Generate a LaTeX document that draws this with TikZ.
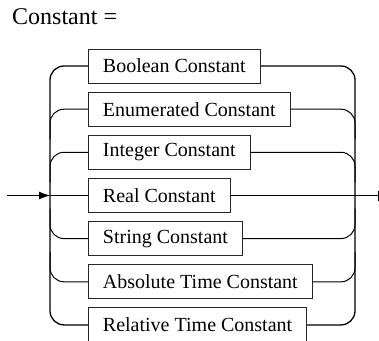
\documentclass[tikz,border=0pt]{standalone}
\usepackage{fontspec}
\setmainfont{Liberation Serif}
\usetikzlibrary{arrows.meta}
\tikzset{
  cbox/.style={draw=black!85, line width=0.9pt, minimum height=34pt, inner xsep=14.5pt, inner ysep=0pt, anchor=west, font=\fontsize{20}{24}\selectfont},
  rail/.style={line width=1.3pt, rounded corners=14pt},
  wire/.style={line width=1pt, rounded corners=14pt},
}
\begin{document}
\begin{tikzpicture}[x=1pt,y=1pt]
\useasboundingbox (0,0) rectangle (379,340);
\node[anchor=base west, inner sep=0pt, font=\fontsize{24}{28}\selectfont] (title) at (12,315) {Constant =};
\node[cbox] (b1) at (88,274) {Boolean Constant};
\node[cbox] (b2) at (88,230.8) {Enumerated Constant};
\node[cbox] (b3) at (88,187.7) {Integer Constant};
\node[cbox] (b4) at (88,144.5) {Real Constant};
\node[cbox] (b5) at (88,101.4) {String Constant};
\node[cbox] (b6) at (88,58.2) {Absolute Time Constant};
\node[cbox] (b7) at (88,15.1) {Relative Time Constant};
\coordinate (lx) at (50,0);
\coordinate (rx) at (355,0);
\coordinate (start) at (7,144.5);
\coordinate (finish) at (378,144.5);
% left rail
\draw[rail] (b1.west) -- (b1.west -| lx) -- (b7.west -| lx) -- (b7.west);
\draw[wire] (b2.west) -- (b2.west -| lx) -- ++(0,-30);
\draw[wire] (b3.west) -- (b3.west -| lx) -- ++(0,-30);
\draw[wire] (b5.west) -- (b5.west -| lx) -- ++(0,30);
\draw[wire] (b6.west) -- (b6.west -| lx) -- ++(0,30);
\draw[line width=1pt, -{Latex[length=11pt,width=8pt]}] (start) -- (b4.west -| lx);
\draw[line width=1pt] (b4.west -| lx) -- (b4.west);
% right rail
\draw[rail] (b1.east) -- (b1.east -| rx) -- (b7.east -| rx) -- (b7.east);
\draw[wire] (b2.east) -- (b2.east -| rx) -- ++(0,-30);
\draw[wire] (b3.east) -- (b3.east -| rx) -- ++(0,-30);
\draw[wire] (b5.east) -- (b5.east -| rx) -- ++(0,30);
\draw[wire] (b6.east) -- (b6.east -| rx) -- ++(0,30);
\draw[line width=1pt] (b4.east) -- (finish);
\draw[line width=1pt] ([yshift=-5pt]finish) -- ([yshift=5pt]finish);
\end{tikzpicture}
\end{document}
